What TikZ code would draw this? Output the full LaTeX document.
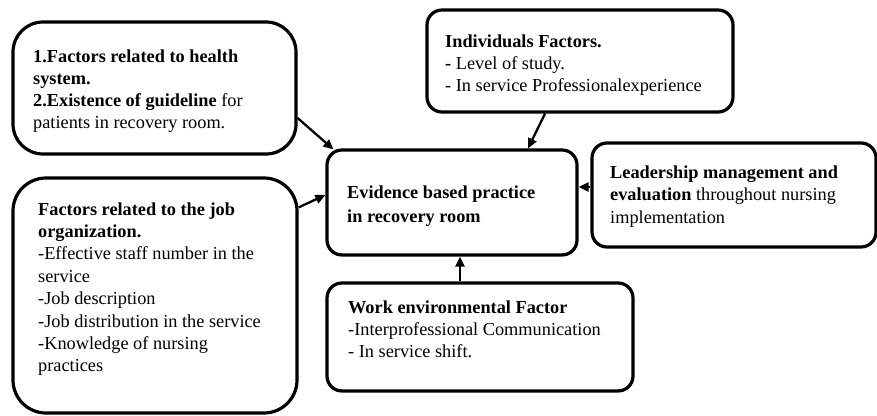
\documentclass[tikz,border=0pt]{standalone}
\usepackage{fontspec}
\setmainfont{Liberation Serif}
\usetikzlibrary{arrows.meta}
\begin{document}
\begin{tikzpicture}[x=1pt,y=-1pt,
  box/.style={draw, line width=3.2pt, rounded corners=15pt, inner sep=0pt},
  bigbox/.style={box, rounded corners=30pt},
  txt/.style={anchor=base west, inner sep=0pt},
  arr/.style={line width=2.3pt, -{Triangle[length=10pt,width=9pt]}}]
\useasboundingbox (0,0) rectangle (877,415);
% boxes
\node[bigbox, minimum width=283pt, minimum height=132pt] (A) at (154.5,88) {};
\node[box, minimum width=306pt, minimum height=102pt] (B) at (580,61) {};
\node[box, minimum width=250pt, minimum height=105pt] (M) at (452,202.5) {};
\node[box, minimum width=284pt, minimum height=104pt] (D) at (734,195) {};
\node[bigbox, rounded corners=33pt, minimum width=284pt, minimum height=235pt] (C) at (155,295.5) {};
\node[box, minimum width=306pt, minimum height=108pt] (E) at (480,337) {};
% texts
\node[txt] (tA) at (33,62) {\fontsize{18.3}{22}\selectfont\begin{tabular}[t]{@{}l@{}}
\textbf{1.Factors related to health}\\
\textbf{system.}\\
\textbf{2.Existence of guideline} for\\
patients in recovery room.\end{tabular}};
\node[txt] (tB) at (445,47) {\fontsize{18.3}{22}\selectfont\begin{tabular}[t]{@{}l@{}}
\textbf{Individuals Factors.}\\
\textbf{-} Level of study.\\
- In service Professionalexperience\end{tabular}};
\node[txt] (tM) at (347,198) {\fontsize{18.3}{24}\selectfont\begin{tabular}[t]{@{}l@{}}
\textbf{Evidence based practice}\\
\textbf{in recovery room}\end{tabular}};
\node[txt] (tD) at (610,178) {\fontsize{18.3}{22.5}\selectfont\begin{tabular}[t]{@{}l@{}}
\textbf{Leadership management and}\\
\textbf{evaluation} throughout nursing\\
implementation\end{tabular}};
\node[txt] (tC) at (38,215) {\fontsize{18.3}{22.4}\selectfont\begin{tabular}[t]{@{}l@{}}
\textbf{Factors related to the job}\\
\textbf{organization.}\\
-Effective staff number in the\\
service\\
-Job description\\
-Job distribution in the service\\
-Knowledge of nursing\\
practices\end{tabular}};
\node[txt] (tE) at (348,313) {\fontsize{18.3}{22}\selectfont\begin{tabular}[t]{@{}l@{}}
\textbf{Work environmental Factor}\\
-Interprofessional Communication\\
- In service shift.\end{tabular}};
% connectors
\draw[arr] ([yshift=-30pt]A.east) -- ([xshift=8pt,yshift=-1pt]M.north west);
\draw[arr] ([xshift=-35pt]B.south) -- ([xshift=76pt]M.north);
\draw[arr] ([yshift=-31pt]C.north east) -- ([yshift=7.5pt]M.west);
\draw[arr] ([yshift=8pt]D.west) -- ([yshift=8pt]D.west -| M.east);
\draw[arr] ([xshift=-20pt]E.north) -- ([xshift=-20pt]E.north |- M.south);
\end{tikzpicture}
\end{document}
